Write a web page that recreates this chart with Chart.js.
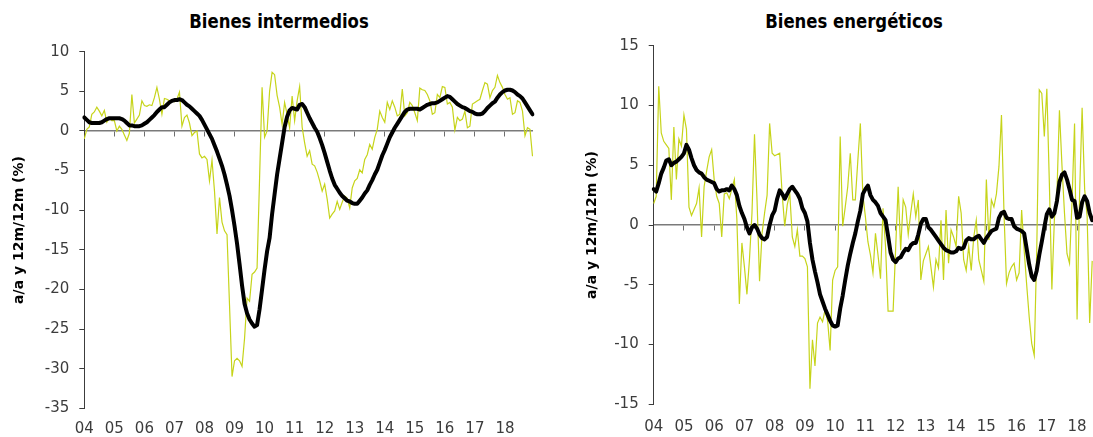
<!DOCTYPE html>
<html lang="es">
<head>
<meta charset="utf-8">
<title>Bienes intermedios y energéticos</title>
<script src="https://cdn.jsdelivr.net/npm/chart.js@4.4.1/dist/chart.umd.min.js"></script>
<style>
  html, body { margin: 0; padding: 0; background: #fff; }
  body { width: 1093px; height: 437px; overflow: hidden; position: relative; }
  .title {
    position: absolute; top: 12px; width: 220px; line-height: 20px;
    font-family: "DejaVu Sans", sans-serif; font-weight: bold; font-size: 16.5px;
    text-align: center; white-space: nowrap; color: #000;
    transform: scaleY(1.15);
  }
  canvas { position: absolute; top: 0; }
</style>
</head>
<body>
<div class="title" style="left:169px">Bienes intermedios</div>
<div class="title" style="left:744px">Bienes energéticos</div>
<canvas id="chartInter" width="546" height="437" style="left:0"></canvas>
<canvas id="chartEner" width="560" height="437" style="left:546px"></canvas>

<script>
// años del eje (etiquetas) y meses ene-2004 .. dic-2018
const years = ['04','05','06','07','08','09','10','11','12','13','14','15','16','17','18'];
const months = [];
years.forEach(function(y) {
  for (let m = 1; m <= 12; m++) months.push(y + '-' + (m < 10 ? '0' + m : m));
});

// Bienes intermedios ==========================================================
const intermedios12m = [
  1.7, 1.4, 1.1, 1.0, 1.0, 1.0, 1.0, 1.1, 1.3, 1.5, 1.6, 1.6,
  1.6, 1.6, 1.6, 1.5, 1.3, 1.0, 0.7, 0.7, 0.6, 0.6, 0.6, 0.7,
  0.9, 1.1, 1.4, 1.7, 2.0, 2.4, 2.7, 3.0, 3.0, 3.3, 3.6, 3.8,
  3.9, 3.9, 4.0, 3.9, 3.6, 3.3, 3.1, 2.8, 2.5, 2.2, 1.9, 1.4,
  0.8, 0.2, -0.4, -1.0, -1.8, -2.6, -3.5, -4.4, -5.5, -6.8, -8.2, -10.0,
  -12.0, -14.2, -16.8, -19.5, -21.8, -23.0, -23.8, -24.3, -24.7, -24.5, -22.5, -20.0,
  -17.5, -15.2, -13.5, -10.5, -8.0, -5.5, -3.5, -1.5, 0.5, 1.8, 2.6, 2.9,
  2.8, 2.7, 3.3, 3.4, 3.0, 2.3, 1.6, 1.0, 0.4, -0.1, -0.9, -1.8,
  -2.8, -3.9, -5.0, -6.0, -6.8, -7.3, -7.8, -8.2, -8.5, -8.8, -8.9, -9.1,
  -9.2, -9.2, -8.8, -8.4, -7.9, -7.5, -6.8, -6.2, -5.5, -4.9, -4.0, -3.1,
  -2.4, -1.6, -0.8, -0.2, 0.4, 0.9, 1.4, 1.9, 2.4, 2.7, 2.8, 2.8,
  2.8, 2.8, 2.7, 2.9, 3.1, 3.3, 3.4, 3.5, 3.5, 3.6, 3.8, 4.0,
  4.2, 4.4, 4.3, 4.0, 3.7, 3.4, 3.2, 3.0, 2.9, 2.7, 2.5, 2.4,
  2.2, 2.1, 2.1, 2.2, 2.5, 2.9, 3.2, 3.5, 3.7, 4.2, 4.6, 4.9,
  5.1, 5.2, 5.2, 5.1, 4.9, 4.6, 4.4, 4.1, 3.6, 3.1, 2.6, 2.1
];
const intermediosAa = [
  -1.0, 0.2, 0.5, 2.1, 2.4, 3.0, 2.5, 1.9, 2.6, 1.1, 1.6, 1.3,
  1.3, 0.0, 0.6, 0.2, -0.5, -1.2, -0.3, 4.6, 1.0, 1.5, 2.0, 3.8,
  3.2, 3.1, 3.3, 3.2, 4.2, 5.5, 4.0, 2.1, 4.1, 4.0, 3.8, 3.9,
  3.7, 4.0, 4.9, 0.6, 1.7, 2.0, 1.0, -0.6, -0.2, 0.0, -2.9, -3.4,
  -3.2, -3.6, -6.3, -3.7, -7.6, -13.0, -8.4, -11.5, -12.6, -13.1, -22.0, -31.0,
  -29.0, -28.7, -29.0, -29.7, -26.2, -21.1, -21.5, -18.1, -17.8, -17.3, -6.0, 5.5,
  -0.8, 0.0, 5.0, 7.4, 7.1, 4.5, 3.0, 0.8, 3.6, 2.1, 0.4, 4.4,
  1.3, 3.8, 5.6, 0.5, -1.5, -3.2, -2.5, -4.2, -4.4, -5.2, -6.3, -7.6,
  -6.7, -8.6, -11.0, -10.5, -10.1, -8.9, -9.9, -9.0, -8.2, -8.5, -9.7, -7.2,
  -6.3, -6.0, -4.9, -5.3, -3.6, -3.0, -1.7, -2.3, -0.8, 0.2, 2.5, 1.7,
  1.1, 3.6, 2.7, 3.8, 3.0, 1.9, 2.1, 5.3, 1.9, 2.3, 3.6, 3.2,
  2.3, 1.3, 5.4, 5.2, 5.1, 4.6, 3.8, 2.1, 2.3, 4.6, 4.2, 5.6,
  5.5, 3.4, 3.6, 3.0, 0.1, 1.7, 1.3, 1.5, 2.5, 0.4, 0.6, 3.4,
  3.6, 3.8, 4.0, 5.1, 6.1, 5.9, 4.2, 5.1, 5.5, 7.0, 6.1, 5.5,
  4.6, 4.0, 4.2, 2.1, 2.3, 3.8, 3.6, 2.5, -0.6, 0.4, 0.2, -3.2
];

// Bienes energéticos (el gráfico original queda cortado a la derecha) =========
const energeticos12m = [
  3.0, 2.8, 3.5, 4.3, 4.8, 5.4, 5.5, 5.0, 5.2, 5.3, 5.5, 5.7,
  6.0, 6.7, 6.3, 5.6, 5.0, 4.6, 4.4, 4.3, 4.0, 3.8, 3.7, 3.6,
  3.5, 3.0, 2.8, 2.9, 2.9, 3.0, 2.9, 3.3, 3.0, 2.5, 1.6, 1.0,
  0.5, -0.2, -0.7, -0.2, 0.0, -0.3, -0.8, -1.1, -1.2, -1.0, 0.0, 0.8,
  1.2, 2.2, 2.9, 2.6, 2.2, 2.6, 3.0, 3.2, 2.9, 2.6, 2.2, 1.4,
  1.0, 0.3, -1.5, -2.9, -3.9, -4.8, -5.8, -6.4, -7.0, -7.5, -8.0, -8.4,
  -8.5, -8.4, -7.0, -5.9, -4.6, -3.4, -2.4, -1.5, -0.7, 0.3, 1.2, 2.6,
  3.0, 3.3, 2.5, 2.1, 1.9, 1.6, 1.0, 0.7, 0.4, -0.9, -2.3, -2.9,
  -3.1, -2.8, -2.7, -2.3, -2.0, -2.1, -1.7, -1.5, -1.5, -0.8, 0.1, 0.5,
  0.5, -0.2, -0.4, -0.7, -1.0, -1.3, -1.6, -1.9, -2.1, -2.2, -2.3, -2.3,
  -2.2, -1.9, -2.0, -1.9, -1.3, -1.1, -1.2, -1.2, -1.0, -0.9, -1.2, -1.5,
  -1.1, -0.8, -0.5, -0.4, -0.3, 0.6, 1.0, 1.1, 0.6, 0.5, 0.5, -0.1,
  -0.3, -0.4, -0.5, -0.7, -2.0, -3.3, -4.3, -4.6, -3.8, -2.5, -1.4, -0.2,
  0.9, 1.3, 0.7, 1.0, 2.0, 3.6, 4.2, 4.4, 3.8, 3.0, 2.1, 2.0,
  0.6, 0.7, 1.9, 2.4, 2.0, 1.0, 0.4
];
const energeticosAa = [
  1.8, 2.4, 11.6, 7.7, 7.0, 6.7, 6.4, 2.1, 8.2, 3.8, 7.2, 6.6,
  9.2, 8.0, 1.5, 0.8, 1.3, 1.8, 3.1, -1.0, 3.2, 4.5, 5.7, 6.3,
  3.8, 2.4, 1.8, -1.0, 2.6, 2.7, 2.2, 3.0, 3.8, 0.5, -6.6, -1.5,
  -3.5, -5.8, -2.9, 1.0, 7.6, 2.1, -4.7, -0.7, 1.0, 2.5, 8.5, 6.0,
  5.8, 5.9, 6.0, 2.5, -0.1, 1.7, 2.6, -1.0, -1.8, -0.4, -2.6, -2.6,
  -2.8, -3.5, -13.7, -9.6, -11.8, -8.2, -7.7, -8.1, -7.1, -8.0, -10.5, -4.6,
  -3.8, -3.5, 7.4, -0.1, 1.5, 3.2, 6.0, 2.1, 2.1, 5.4, 8.5, 2.5,
  0.7, -1.4, -2.5, -4.0, -0.7, -2.5, -4.5, 1.4, -1.8, -7.2, -7.2, -7.2,
  -2.0, 3.2, -2.1, 2.1, 1.5, -0.8, 1.0, 2.6, 0.7, 2.1, -4.6, -3.0,
  -2.4, -1.8, -3.5, -5.2, -2.9, -3.6, 0.4, -4.6, 1.25, -3.2, -0.4, -1.0,
  -1.8, 2.4, 1.0, -2.9, -3.8, -1.8, -3.8, -1.0, 0.4, -2.9, -3.8, -4.7,
  3.8, -1.25, 2.1, 1.5, 2.6, 4.9, 9.2, 1.0, -4.9, -4.0, -3.5, -3.2,
  -4.6, -4.0, 1.25, -2.1, -5.0, -7.7, -9.9, -10.9, -2.1, 11.3, 11.0, 7.4,
  11.4, 3.5, -5.4, 0.5, 2.6, 9.6, 5.0, 1.0, -2.4, -3.2, 2.0, 8.5,
  -7.9, 2.6, 9.8, 3.0, 0.7, -8.2, -3.0
];

const tickFont = { family: '"DejaVu Sans", sans-serif', size: 15 };
const axisTitleFont = { family: '"DejaVu Sans", sans-serif', size: 14, weight: 'bold' };

// solo marcas de enero
function yearTicks(scale) {
  scale.ticks = months
    .map(function(m, i) { return { value: i }; })
    .filter(function(t) { return months[t.value].slice(3) === '01'; });
}

function makeChart(id, aa, m12, yMin, yMax, box) {
  return new Chart(document.getElementById(id), {
    type: 'line',
    data: {
      labels: months,
      datasets: [
        { label: '12m/12m', data: m12, borderColor: '#000', borderWidth: 4,
          pointRadius: 0, borderJoinStyle: 'round', borderCapStyle: 'round' },
        { label: 'a/a', data: aa, borderColor: '#c6d41a', borderWidth: 1.2,
          pointRadius: 0 }
      ]
    },
    options: {
      responsive: false,
      animation: false,
      events: [],
      layout: { padding: { left: box.left, right: box.right, top: box.top, bottom: 0 } },
      plugins: { legend: { display: false }, tooltip: { enabled: false } },
      scales: {
        x: {
          type: 'category',
          position: { y: 0 },
          afterBuildTicks: yearTicks,
          grid: { drawOnChartArea: false, drawTicks: true, tickLength: 5, color: '#6e6e6e' },
          border: { display: true, color: '#7a7a7a', width: 1.5 },
          ticks: { display: false }
        },
        x2: {
          type: 'category',
          position: 'bottom',
          afterBuildTicks: yearTicks,
          afterFit: function(s) { s.height = box.bottom; },
          grid: { display: false, drawTicks: false },
          border: { display: false },
          ticks: {
            color: '#3c3c3c', font: tickFont, padding: box.labelPad,
            autoSkip: false, maxRotation: 0,
            callback: function(v) { return months[v].slice(0, 2); }
          }
        },
        y: {
          min: yMin, max: yMax,
          afterFit: function(s) { s.width = box.yWidth; },
          grid: { drawOnChartArea: false, tickLength: 5, color: '#3c3c3c' },
          border: { color: '#3c3c3c', width: 1 },
          ticks: { stepSize: 5, padding: 10, color: '#3c3c3c', font: tickFont },
          title: { display: true, text: 'a/a y 12m/12m (%)', color: '#000',
                   font: axisTitleFont, padding: { top: 11, bottom: 0 } }
        }
      }
    }
  });
}

makeChart('chartInter', intermediosAa, intermedios12m, -35, 10,
  { left: 0, right: 13.5, top: 51.7, bottom: 28.7, yWidth: 84.3, labelPad: 11.9 });
makeChart('chartEner', energeticosAa, energeticos12m, -15, 15,
  { left: 27, right: 1.2, top: 45.7, bottom: 32.7, yWidth: 80.7, labelPad: 13.5 });
</script>
</body>
</html>
